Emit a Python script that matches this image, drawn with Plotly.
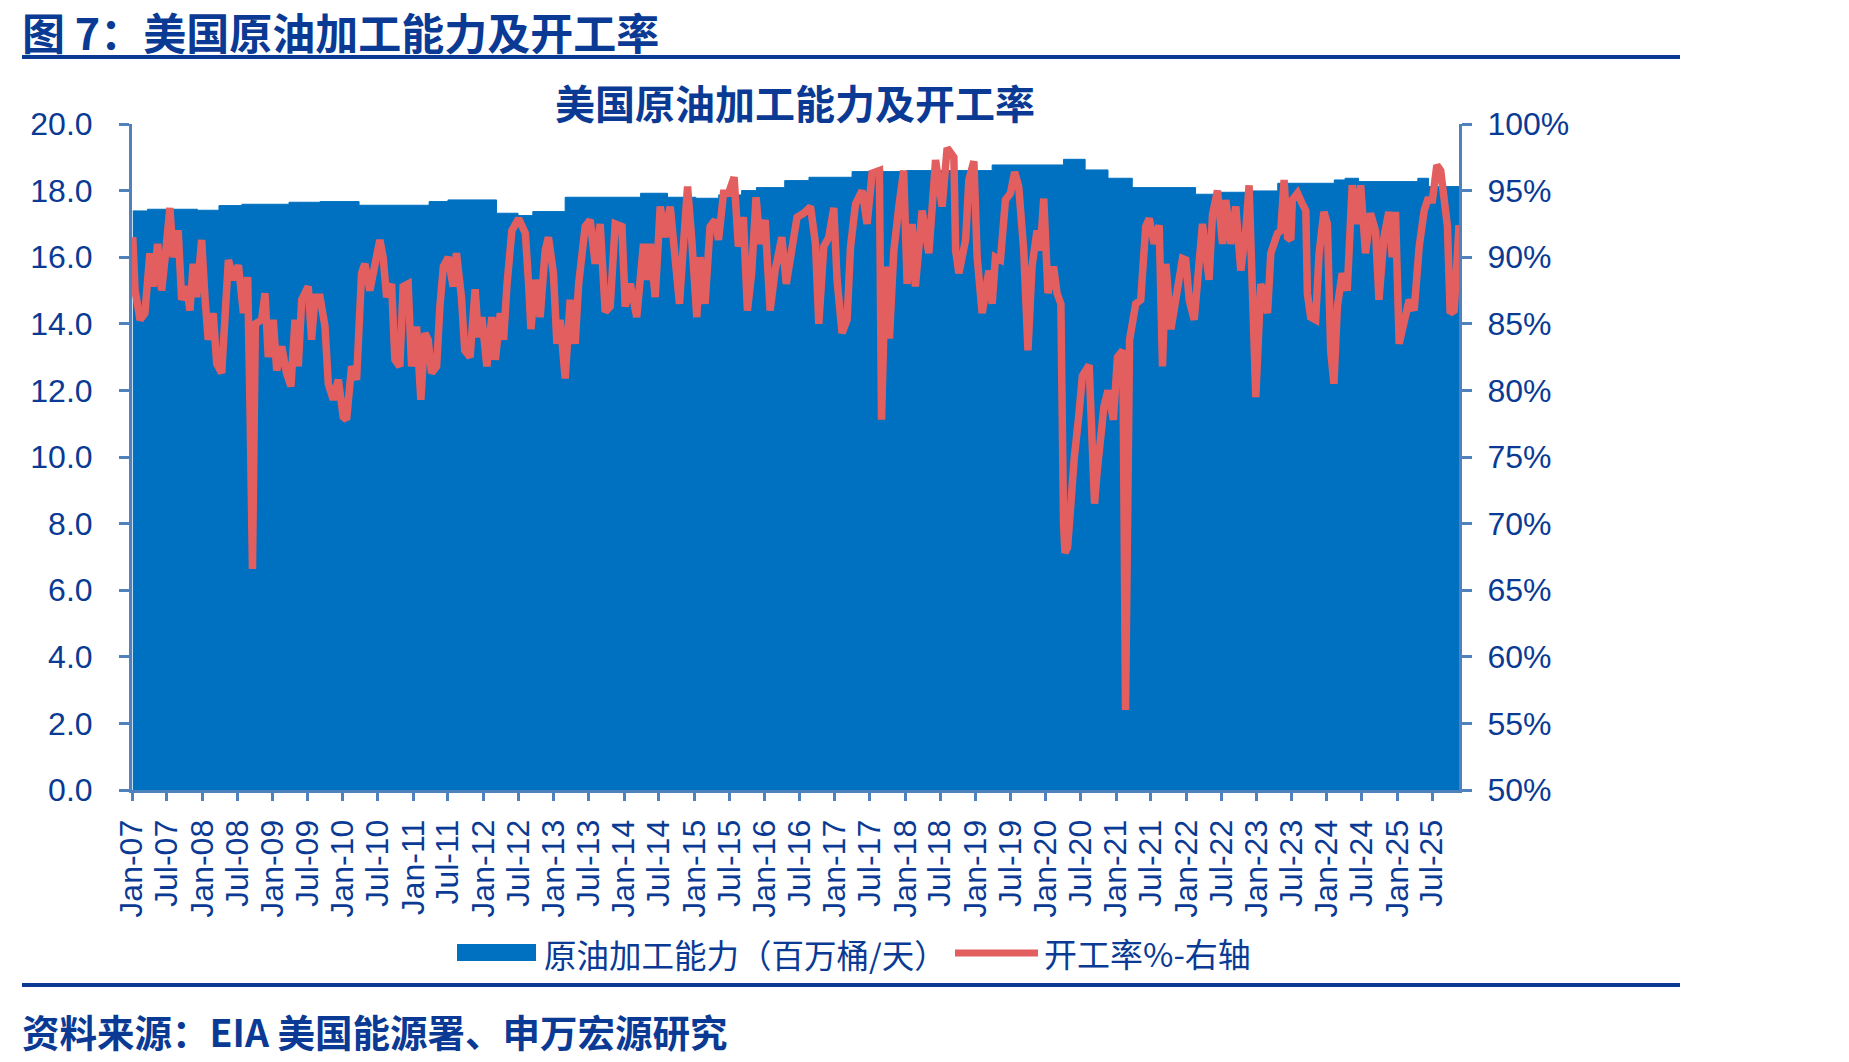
import plotly.graph_objects as go

# ---------------- data ----------------
cap_dates = ['2007-01-05', '2007-03-23', '2007-12-07', '2008-03-28', '2008-07-25', '2009-03-27',
             '2009-09-04', '2010-03-26', '2011-03-25', '2011-07-01', '2012-03-09', '2012-06-29',
             '2012-09-14', '2013-03-01', '2014-03-28', '2014-08-15', '2015-01-09', '2015-05-08',
             '2015-09-04', '2015-11-20', '2016-04-15', '2016-08-19', '2017-03-31', '2018-01-05',
             '2019-03-29', '2020-04-03', '2020-07-24', '2020-11-20', '2021-03-26', '2022-02-18',
             '2022-06-10', '2022-11-18', '2023-04-21', '2024-02-09', '2024-04-05', '2024-06-14',
             '2025-04-18', '2025-06-13', '2025-11-18']
cap_vals = [17.39, 17.44, 17.41, 17.55, 17.59, 17.65,
            17.67, 17.56, 17.67, 17.72, 17.32, 17.25,
            17.37, 17.80, 17.92, 17.80, 17.77, 17.87,
            18.00, 18.09, 18.30, 18.40, 18.57, 18.60,
            18.77, 18.94, 18.62, 18.37, 18.09, 17.89,
            17.95, 17.99, 18.22, 18.32, 18.37, 18.27,
            18.37, 18.12, 18.12]

util_dates = [
    '2007-01-05', '2007-01-17', '2007-02-12', '2007-03-09', '2007-04-04', '2007-04-21', '2007-05-14',
    '2007-06-04', '2007-06-21', '2007-07-17', '2007-08-03', '2007-08-29', '2007-09-16', '2007-10-12',
    '2007-10-29', '2007-11-15', '2007-12-03', '2007-12-29',
    '2008-01-15', '2008-02-01', '2008-02-27', '2008-03-16', '2008-04-11', '2008-04-28', '2008-05-16',
    '2008-06-11', '2008-07-07', '2008-08-02', '2008-08-24', '2008-09-06', '2008-09-18', '2008-10-03',
    '2008-11-05', '2008-11-22', '2008-12-09',
    '2009-01-04', '2009-01-22', '2009-02-17', '2009-03-14', '2009-04-06', '2009-04-27', '2009-05-14',
    '2009-06-01', '2009-07-05', '2009-07-22', '2009-08-09', '2009-09-04', '2009-09-30', '2009-10-17',
    '2009-11-12', '2009-12-08',
    '2010-01-03', '2010-01-20', '2010-02-15', '2010-03-13', '2010-04-08', '2010-04-25', '2010-05-21',
    '2010-06-16', '2010-07-12', '2010-07-29', '2010-08-16', '2010-09-11', '2010-09-28', '2010-10-24',
    '2010-11-10', '2010-12-06', '2010-12-24',
    '2011-01-19', '2011-02-10', '2011-03-03', '2011-03-20', '2011-04-07', '2011-05-03', '2011-05-20',
    '2011-06-07', '2011-07-02', '2011-07-28', '2011-08-14', '2011-09-09', '2011-09-26', '2011-10-24',
    '2011-11-19', '2011-12-06', '2011-12-24',
    '2012-01-19', '2012-02-14', '2012-03-03', '2012-03-29', '2012-04-15', '2012-05-03', '2012-05-28',
    '2012-07-02', '2012-08-06', '2012-08-23', '2012-09-04', '2012-09-27', '2012-10-22', '2012-11-17',
    '2012-12-04', '2012-12-30',
    '2013-01-17', '2013-02-03', '2013-03-01', '2013-03-27', '2013-04-22', '2013-05-10', '2013-06-13',
    '2013-07-09', '2013-08-04', '2013-08-30', '2013-09-25', '2013-10-21', '2013-11-16', '2013-12-21',
    '2014-01-07', '2014-02-02', '2014-03-08', '2014-04-12', '2014-04-29', '2014-05-17', '2014-06-12',
    '2014-07-08', '2014-08-03', '2014-08-29', '2014-09-24', '2014-10-16', '2014-11-06', '2014-11-27',
    '2014-12-19',
    '2015-01-14', '2015-01-31', '2015-02-26', '2015-03-24', '2015-04-19', '2015-05-07', '2015-06-02',
    '2015-06-28', '2015-07-27', '2015-08-18', '2015-09-13', '2015-10-04', '2015-10-26', '2015-11-18',
    '2015-12-09',
    '2016-01-04', '2016-01-30', '2016-02-25', '2016-03-31', '2016-04-23', '2016-05-14', '2016-06-18',
    '2016-07-23', '2016-08-27', '2016-09-22', '2016-10-09', '2016-11-04', '2016-11-30', '2016-12-26',
    '2017-01-12', '2017-02-07', '2017-03-05', '2017-03-23', '2017-04-18', '2017-05-22', '2017-06-17',
    '2017-07-13', '2017-08-20', '2017-08-31', '2017-09-21', '2017-10-11', '2017-11-03', '2017-11-29',
    '2017-12-24',
    '2018-01-11', '2018-02-06', '2018-02-23', '2018-03-30', '2018-05-04', '2018-06-08', '2018-07-12',
    '2018-08-07', '2018-09-11', '2018-09-20', '2018-10-07', '2018-11-11', '2018-11-28', '2018-12-24',
    '2019-01-10', '2019-02-05', '2019-03-12', '2019-03-29', '2019-04-15', '2019-05-11', '2019-06-06',
    '2019-07-02', '2019-07-24', '2019-08-14', '2019-09-09', '2019-10-01', '2019-10-22', '2019-11-17',
    '2019-12-04', '2019-12-22',
    '2020-01-13', '2020-02-11', '2020-02-29', '2020-03-20', '2020-04-03', '2020-04-10', '2020-04-24',
    '2020-05-08', '2020-05-29', '2020-06-19', '2020-07-10', '2020-08-14', '2020-08-28', '2020-09-11',
    '2020-09-25', '2020-10-30', '2020-11-20', '2020-12-18',
    '2021-01-08', '2021-02-05', '2021-02-19', '2021-03-12', '2021-04-13', '2021-05-09', '2021-06-04',
    '2021-06-22', '2021-07-18', '2021-08-13', '2021-08-30', '2021-09-17', '2021-10-13', '2021-11-16',
    '2021-12-12', '2021-12-29',
    '2022-01-16', '2022-02-11', '2022-02-28', '2022-03-26', '2022-04-29', '2022-05-17', '2022-06-12',
    '2022-07-08', '2022-07-25', '2022-08-20', '2022-09-15', '2022-10-11', '2022-11-06', '2022-11-23',
    '2022-12-02', '2022-12-28',
    '2023-01-23', '2023-02-27', '2023-03-16', '2023-04-20', '2023-05-07', '2023-05-24', '2023-06-11',
    '2023-06-28', '2023-07-06', '2023-08-02', '2023-08-27', '2023-09-14', '2023-09-22', '2023-10-09',
    '2023-11-04', '2023-11-22', '2023-12-17',
    '2024-01-04', '2024-01-21', '2024-02-07', '2024-02-25', '2024-03-21', '2024-04-16', '2024-05-12',
    '2024-06-07', '2024-06-25', '2024-07-20', '2024-08-15', '2024-09-10', '2024-09-28', '2024-10-24',
    '2024-11-18', '2024-12-06', '2024-12-23',
    '2025-01-11', '2025-02-06', '2025-03-04', '2025-03-30', '2025-04-25', '2025-05-21', '2025-06-08',
    '2025-07-03', '2025-07-26', '2025-08-15', '2025-09-02', '2025-09-19', '2025-10-03', '2025-10-24',
    '2025-11-18']
util_vals = [
    91.5, 87.5, 85.3, 85.8, 90.3, 87.8, 91.0,
    87.5, 89.8, 93.7, 90.0, 92.0, 86.8, 87.8,
    86.0, 89.5, 87.0, 91.3,
    87.0, 83.8, 85.8, 82.0, 81.3, 84.8, 89.8,
    88.3, 89.4, 85.8, 88.5, 78.0, 66.6, 85.0,
    85.3, 87.3, 82.5,
    85.3, 81.5, 83.3, 81.3, 80.3, 85.3, 81.8,
    86.8, 87.8, 83.8, 87.0, 87.0, 84.8, 80.5,
    79.3, 80.8,
    78.0, 77.8, 81.8, 80.8, 88.8, 89.5, 87.5,
    89.3, 91.3, 90.0, 87.0, 88.0, 82.3, 81.8,
    87.8, 88.0, 81.8,
    84.8, 79.3, 84.3, 83.8, 81.3, 81.8, 86.3,
    89.3, 90.0, 87.8, 90.3, 87.0, 83.0, 82.5,
    87.6, 84.0, 85.5,
    81.8, 85.5, 82.3, 85.8, 83.8, 88.0, 92.0,
    92.9, 91.8, 88.0, 84.6, 88.3, 85.5, 90.5,
    91.5, 88.8,
    83.5, 85.3, 80.9, 86.8, 83.5, 88.0, 92.3,
    92.8, 89.5, 92.5, 85.9, 86.3, 92.5, 92.3,
    86.3, 88.0, 85.5, 91.0, 88.3, 91.0, 87.0,
    93.8, 91.5, 93.8, 90.0, 86.5, 91.0, 95.3,
    91.3,
    85.5, 90.0, 86.5, 92.3, 92.8, 91.3, 94.8,
    94.8, 96.0, 90.8, 93.0, 86.0, 88.8, 94.5,
    91.0,
    92.8, 86.0, 89.0, 91.5, 88.0, 90.0, 93.0,
    93.3, 93.8, 91.0, 85.0, 90.8, 91.5, 93.7,
    88.3, 84.3, 85.3, 90.8, 94.0, 95.0, 92.5,
    96.3, 96.5, 77.8, 89.3, 83.9, 90.5, 93.8,
    96.5,
    88.0, 92.5, 87.8, 93.5, 90.3, 97.3, 93.8,
    98.2, 97.5, 90.5, 88.8, 91.3, 95.8, 97.2,
    90.0, 85.8, 89.0, 86.5, 90.0, 89.8, 94.3,
    94.8, 96.4, 95.3, 90.5, 83.0, 89.3, 92.0,
    90.5, 94.4,
    87.3, 89.3, 87.3, 86.5, 70.0, 67.8, 68.2,
    71.5, 75.0, 77.8, 81.1, 81.9, 76.8, 71.5,
    74.0, 78.8, 80.0, 77.8,
    82.5, 83.0, 56.0, 83.8, 86.5, 86.8, 92.3,
    92.9, 91.0, 92.4, 81.8, 89.5, 84.6, 88.0,
    89.9, 89.8,
    86.8, 85.3, 88.3, 92.5, 88.3, 93.2, 95.0,
    91.0, 94.3, 91.0, 93.8, 89.0, 92.0, 95.4,
    91.3, 79.5,
    88.0, 85.8, 90.3, 91.8, 92.0, 95.8, 91.5,
    91.3, 94.3, 94.8, 94.0, 93.5, 87.3, 85.5,
    85.3, 90.3, 93.4,
    92.5, 83.0, 80.5, 86.3, 88.8, 87.5, 95.4,
    92.5, 95.4, 90.3, 93.3, 92.0, 86.8, 91.5,
    93.4, 90.0, 93.4,
    83.5, 85.5, 86.8, 86.0, 90.8, 93.5, 94.3,
    94.3, 96.9, 96.5, 94.8, 92.3, 85.8, 86.0,
    92.4]

years = list(range(2007, 2026))
tick_dates = []
tick_text = []
for yr in years:
    for mon, name in ((1, 'Jan'), (7, 'Jul')):
        tick_dates.append(f'{yr}-{mon:02d}-01')
        tick_text.append(f'{name}-{yr % 100:02d}')

series_names = ['原油加工能力（百万桶/天）', '开工率%-右轴']
main_title = '图 7：美国原油加工能力及开工率'
chart_title = '美国原油加工能力及开工率'
source_text = '资料来源：EIA 美国能源署、申万宏源研究'

# ---------------- style ----------------
W, H = 1849, 1062
L, R, T, B = 132, 1459, 124, 790
NAVY = '#0a3a94'
AXIS = '#4f81bd'
BLUE = '#0070c0'
RED = '#e35f5f'
CJK = 'Noto Sans CJK SC'
LAT = 'Liberation Sans, Arial, sans-serif'


def px(x):
    return (x - L) / (R - L)


def py(y):
    return (B - y) / (B - T)


fig = go.Figure()
fig.add_trace(go.Scatter(
    x=cap_dates, y=cap_vals, mode='lines', line=dict(color=BLUE, width=1, shape='hv'),
    fill='tozeroy', fillcolor=BLUE, name=series_names[0], showlegend=False, yaxis='y'))
fig.add_trace(go.Scatter(
    x=util_dates, y=util_vals, mode='lines', line=dict(color=RED, width=7.5),
    name=series_names[1], showlegend=False, yaxis='y2'))

axis_font = dict(family=LAT, size=32, color=NAVY)
fig.update_layout(
    width=W, height=H,
    margin=dict(l=L, r=W - R, t=T, b=H - B, pad=0),
    paper_bgcolor='white', plot_bgcolor='white',
    showlegend=False,
    xaxis=dict(type='date', range=['2007-01-01', '2025-11-18'],
               tickmode='array', tickvals=tick_dates, ticktext=tick_text, tickangle=-90,
               tickfont=axis_font, showgrid=False, zeroline=False,
               showline=True, linecolor=AXIS, linewidth=3,
               ticks='outside', ticklen=8, tickwidth=2.5, tickcolor=AXIS,
               ticklabelstandoff=6),
    yaxis=dict(range=[0, 20], tickmode='linear', tick0=0, dtick=2, tickformat='.1f',
               tickfont=axis_font, showgrid=False, zeroline=False,
               showline=True, linecolor=AXIS, linewidth=3,
               ticks='outside', ticklen=10, tickwidth=2.5, tickcolor=AXIS,
               ticklabelstandoff=20),
    yaxis2=dict(range=[50, 100], tickmode='linear', tick0=50, dtick=5, ticksuffix='%',
                overlaying='y', side='right', anchor='x',
                tickfont=axis_font, showgrid=False, zeroline=False,
                showline=True, linecolor=AXIS, linewidth=3,
                ticks='outside', ticklen=10, tickwidth=2.5, tickcolor=AXIS,
                ticklabelstandoff=9),
)

annotations = [
    dict(text='<b>' + main_title + '</b>', x=px(20), y=py(31), xanchor='left', yanchor='middle',
         font=dict(family=CJK, size=43, color=NAVY)),
    dict(text='<b>' + chart_title + '</b>', x=px(795), y=py(102), xanchor='center', yanchor='middle',
         font=dict(family=CJK, size=40, color=NAVY)),
    dict(text='<b>' + source_text + '</b>', x=px(20), y=py(1030), xanchor='left', yanchor='middle',
         font=dict(family=CJK, size=37.5, color=NAVY)),
    dict(text=series_names[0], x=px(542), y=py(953), xanchor='left', yanchor='middle',
         font=dict(family=CJK, size=32.5, color=NAVY)),
    dict(text=series_names[1], x=px(1042), y=py(953), xanchor='left', yanchor='middle',
         font=dict(family=CJK, size=33, color=NAVY)),
]
for a in annotations:
    a.update(xref='paper', yref='paper', showarrow=False)
fig.update_layout(annotations=annotations)

shapes = [
    dict(type='line', x0=px(22), x1=px(1680), y0=py(57), y1=py(57), line=dict(color=NAVY, width=4)),
    dict(type='line', x0=px(22), x1=px(1680), y0=py(985), y1=py(985), line=dict(color=NAVY, width=4)),
    dict(type='rect', x0=px(457), x1=px(536), y0=py(961), y1=py(944), fillcolor=BLUE, line=dict(width=0)),
    dict(type='line', x0=px(955), x1=px(1038), y0=py(953), y1=py(953), line=dict(color=RED, width=7)),
]
for s in shapes:
    s.update(xref='paper', yref='paper')
fig.update_layout(shapes=shapes)

fig.write_html('out.html')
